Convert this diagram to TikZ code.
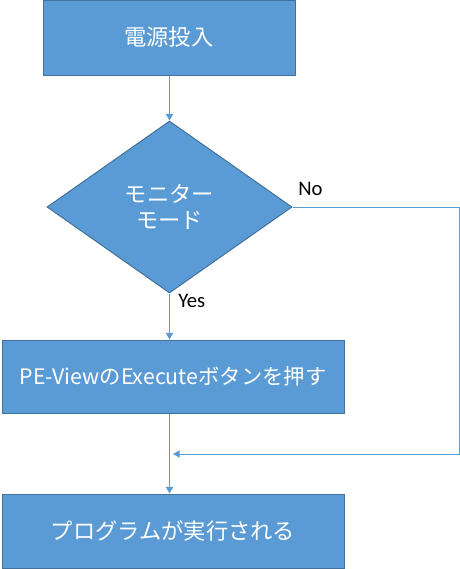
\documentclass[tikz,border=0pt]{standalone}
\usepackage{fontspec}
\setmainfont{Carlito}
\newfontfamily\cjk{Noto Sans CJK JP}
\usetikzlibrary{shapes.geometric,arrows.meta}
\definecolor{boxfill}{HTML}{5B9BD5}
\definecolor{boxline}{HTML}{41719C}
\definecolor{arrline}{HTML}{5B9BD5}
\tikzset{
  procbox/.style={draw=boxline, fill=boxfill, line width=0.75pt, inner sep=0pt,
    text=white, font=\cjk\fontsize{16.7pt}{19pt}\selectfont, align=center},
  decbox/.style={procbox, diamond, aspect=1.42},
  arr/.style={draw=arrline, line width=0.75pt, -{Triangle[length=5pt,width=5.5pt]}},
  lbl/.style={font=\fontsize{15.5pt}{18pt}\selectfont, text=black, inner sep=0pt}
}
\begin{document}
\begin{tikzpicture}[x=0.75pt, y=-0.75pt]
\useasboundingbox (0,0) rectangle (460,569);
\node[procbox, minimum width=189pt, minimum height=56.25pt] (b1) at (169,37.5) {電源投入};
\node[decbox, minimum width=183.75pt, minimum height=129pt] (d) at (169.5,207) {モニター\\モード};
\node[procbox, minimum width=256.5pt, minimum height=54.75pt, font=\cjk\fontsize{16pt}{19pt}\selectfont] (b2) at (173,376.5) {PE-ViewのExecuteボタンを押す};
\node[procbox, minimum width=256.5pt, minimum height=55.5pt] (b3) at (173,531) {プログラムが実行される};
\coordinate (c1) at (459,207);
\coordinate (c2) at (459,454);
\coordinate (m) at (173,454);
\draw[arr] (b1.south -| d.north) -- (d.north);
\draw[arr] (d.south) -- (d.south |- b2.north);
\draw[arr] (d.south |- b2.south) -- (d.south |- b3.north);
\draw[arr] (d.east) -- (c1) -- (c2) -- (m);
\node[lbl, anchor=west] (no) at (298,189) {No};
\node[lbl, anchor=west] (yes) at (178,301) {Yes};
\end{tikzpicture}
\end{document}
